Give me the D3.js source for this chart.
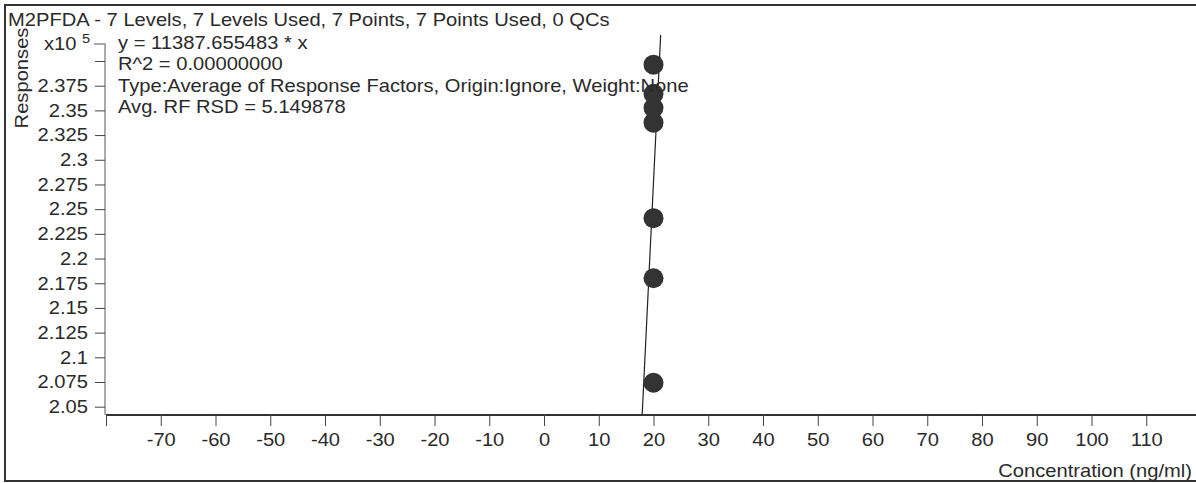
<!DOCTYPE html>
<html>
<head>
<meta charset="utf-8">
<script src="https://cdn.jsdelivr.net/npm/d3@7"></script>
<style>
  html, body { margin: 0; padding: 0; background: #fff; }
  svg { display: block; }
  text { font-family: "Liberation Sans", Arial, sans-serif; fill: #2a2a2a; }
</style>
</head>
<body>
<svg id="chart" width="1196" height="483"></svg>
<script>
// Calibration standards for M2PFDA (concentration in ng/ml, peak response)
const concentrations = [20, 20, 20, 20, 20, 20, 20];
const responses = [239630, 236680, 235270, 233760, 224090, 218010, 207430];

// Average response factor fit through the origin
const slope = 11387.655483;

const titleText = "M2PFDA - 7 Levels, 7 Levels Used, 7 Points, 7 Points Used, 0 QCs";
const fitLines = [
  "y = 11387.655483 * x",
  "R^2 = 0.00000000",
  "Type:Average of Response Factors, Origin:Ignore, Weight:None",
  "Avg. RF RSD = 5.149878"
];

// Axis limits and ticks
const xDomain = [-80, 120];
const xTicks = [-80, -70, -60, -50, -40, -30, -20, -10, 0, 10, 20, 30, 40, 50, 60, 70, 80, 90, 100, 110];
const yDomain = [204160, 241660];
const yTicks = [205000, 207500, 210000, 212500, 215000, 217500, 220000, 222500, 225000,
                227500, 230000, 232500, 235000, 237500, 240000];

const svg = d3.select("#chart");
const W = 1196, H = 483;
const FS = 18;          // base font size
const SX = 1.12;        // horizontal stretch of the report font
const plot = { left: 106, right: 1201, top: 44, bottom: 415 };

const x = d3.scaleLinear().domain(xDomain).range([plot.left, plot.right]);
const y = d3.scaleLinear().domain(yDomain).range([plot.bottom, 44.6]);

// Text helper: places a horizontally stretched label
function label(px, py, str, opts = {}) {
  const t = svg.append("text")
    .attr("transform", `translate(${px},${py})${opts.rotate ? ` rotate(${opts.rotate})` : ""} scale(${SX},1)`)
    .attr("font-size", opts.size || FS)
    .attr("text-anchor", opts.anchor || "start");
  if (str !== null) t.text(str);
  return t;
}

// Outer frame
svg.append("rect")
  .attr("x", 5).attr("y", 5)
  .attr("width", W + 10).attr("height", 476)
  .attr("fill", "none").attr("stroke", "#333").attr("stroke-width", 2);

// Title
label(8, 26, titleText);

// Y axis
const yAxis = d3.axisLeft(y)
  .tickValues(yTicks)
  .tickSize(10)
  .tickPadding(5.2)
  .tickFormat(d => d === 240000 ? "" : String(+(d / 1e5).toFixed(3)));

const gy = svg.append("g")
  .attr("transform", `translate(105,0)`)
  .call(yAxis);
gy.select(".domain").attr("stroke", "#aaa").attr("stroke-width", 2)
  .attr("d", `M-11,${plot.top}H0V${plot.bottom}`);
gy.selectAll(".tick line").attr("stroke", "#444");
gy.selectAll(".tick text")
  .attr("font-size", FS)
  .attr("font-family", "Liberation Sans, Arial, sans-serif")
  .attr("fill", "#2a2a2a")
  .attr("transform", `scale(${SX},1)`);

// Exponent label
const expo = label(44, 50, null);
expo.append("tspan").text("x10 ");
expo.append("tspan").attr("dy", -7).attr("font-size", 13).text("5");

// Y title
label(28, 78, "Responses", { rotate: -90, anchor: "middle" });

// X axis
const xAxis = d3.axisBottom(x)
  .tickValues(xTicks)
  .tickSize(11)
  .tickPadding(7)
  .tickFormat(d => d === -80 ? "" : String(d));

const gx = svg.append("g")
  .attr("transform", `translate(0,${plot.bottom})`)
  .call(xAxis);
gx.select(".domain").attr("stroke", "#333").attr("stroke-width", 2)
  .attr("d", `M${plot.left},0H${plot.right}`);
gx.selectAll(".tick line").attr("stroke", "#444");
gx.selectAll(".tick text")
  .attr("font-size", FS)
  .attr("font-family", "Liberation Sans, Arial, sans-serif")
  .attr("fill", "#2a2a2a")
  .attr("transform", `scale(${SX},1)`);

// X title
label(1192, 477, "Concentration (ng/ml)", { anchor: "end" });

// Fit line clipped to the plotting region
svg.append("clipPath").attr("id", "plotClip")
  .append("rect").attr("x", plot.left).attr("y", 35)
  .attr("width", W - plot.left).attr("height", plot.bottom - 35);

const fitData = xDomain.map(c => ({ c, r: slope * c }));
svg.append("path")
  .datum(fitData)
  .attr("clip-path", "url(#plotClip)")
  .attr("fill", "none")
  .attr("stroke", "#222")
  .attr("stroke-width", 1.2)
  .attr("d", d3.line().x(d => x(d.c)).y(d => y(d.r)));

// Calibration points
svg.append("g").selectAll("circle")
  .data(responses.map((r, i) => ({ c: concentrations[i], r })))
  .join("circle")
  .attr("cx", d => x(d.c))
  .attr("cy", d => y(d.r))
  .attr("r", 10)
  .attr("fill", "#333");

// Fit summary
fitLines.forEach((str, i) => label(118, 49 + i * 21.3, str));
</script>
</body>
</html>
